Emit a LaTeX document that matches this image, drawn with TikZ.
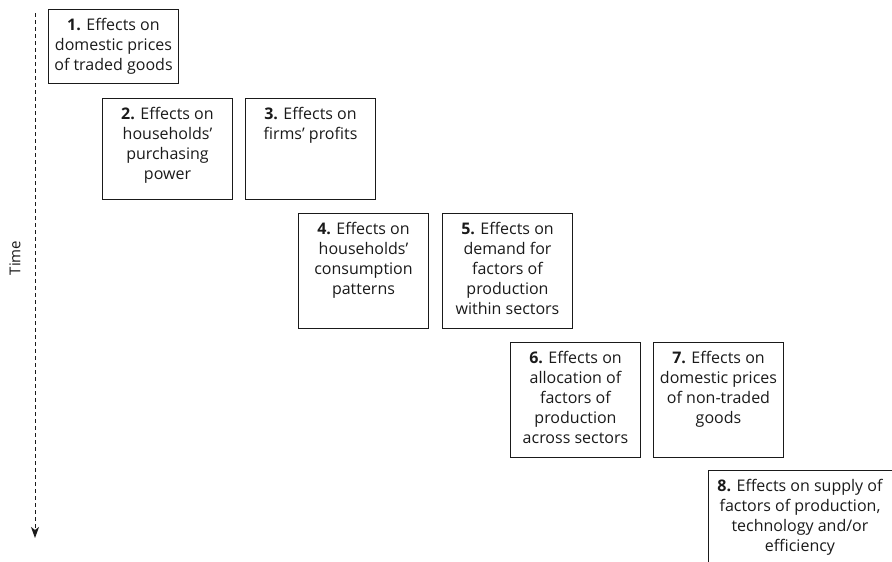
\documentclass[tikz,border=0pt]{standalone}
\usepackage{fontspec}
\setmainfont{Open Sans}
\usetikzlibrary{arrows.meta}
\definecolor{ink}{HTML}{1A1A1A}
\begin{document}
\begin{tikzpicture}[x=1pt,y=-1pt,
  box/.style={draw=ink, line width=1pt, anchor=north west, inner sep=0pt,
              minimum width=130pt},
  tall/.style={box, minimum height=115pt},
  txt/.style={anchor=north, inner sep=0pt, align=center, text=ink,
              font=\fontsize{16}{20}\selectfont, yshift=-9pt},
  timeline/.style={draw=ink, line width=1pt, dash pattern=on 4pt off 3pt,
                   -{Stealth[length=11pt,width=8pt,inset=3pt]}},
]
\useasboundingbox (0,0) rectangle (892,562);
\clip (0,0) rectangle (892,562);

% time axis
\coordinate (ttop) at (35,13);
\coordinate (tbot) at (35,538);
\draw[timeline] (ttop) -- (tbot);
\node[rotate=90, text=ink, font=\fontsize{15}{18}\selectfont] (time) at (15,258) {Time};

% boxes
\node[box, minimum height=74pt] (b1) at (48,9) {};
\node[box, minimum height=101pt] (b2) at (102,98) {};
\node[box, minimum height=101pt] (b3) at (245,98) {};
\node[tall] (b4) at (298,213) {};
\node[tall] (b5) at (442,213) {};
\node[tall] (b6) at (510,342) {};
\node[tall] (b7) at (653,342) {};
\node[box, minimum width=200pt, minimum height=110pt] (b8) at (708,470) {};

% labels
\node[txt] (t1) at (b1.north) {\textbf{1.} Effects on\\domestic prices\\of traded goods};
\node[txt] (t2) at (b2.north) {\textbf{2.} Effects on\\households’\\purchasing\\power};
\node[txt] (t3) at (b3.north) {\textbf{3.} Effects on\\firms’ profits};
\node[txt] (t4) at (b4.north) {\textbf{4.} Effects on\\households’\\consumption\\patterns};
\node[txt] (t5) at (b5.north) {\textbf{5.} Effects on\\demand for\\factors of\\production\\within sectors};
\node[txt] (t6) at (b6.north) {\textbf{6.} Effects on\\allocation of\\factors of\\production\\across sectors};
\node[txt] (t7) at (b7.north) {\textbf{7.} Effects on\\domestic prices\\of non-traded\\goods};
\node[txt] (t8) at ([xshift=92pt]b8.north west) {\textbf{8.} Effects on supply of\\factors of production,\\technology and/or\\efficiency};
\end{tikzpicture}
\end{document}
